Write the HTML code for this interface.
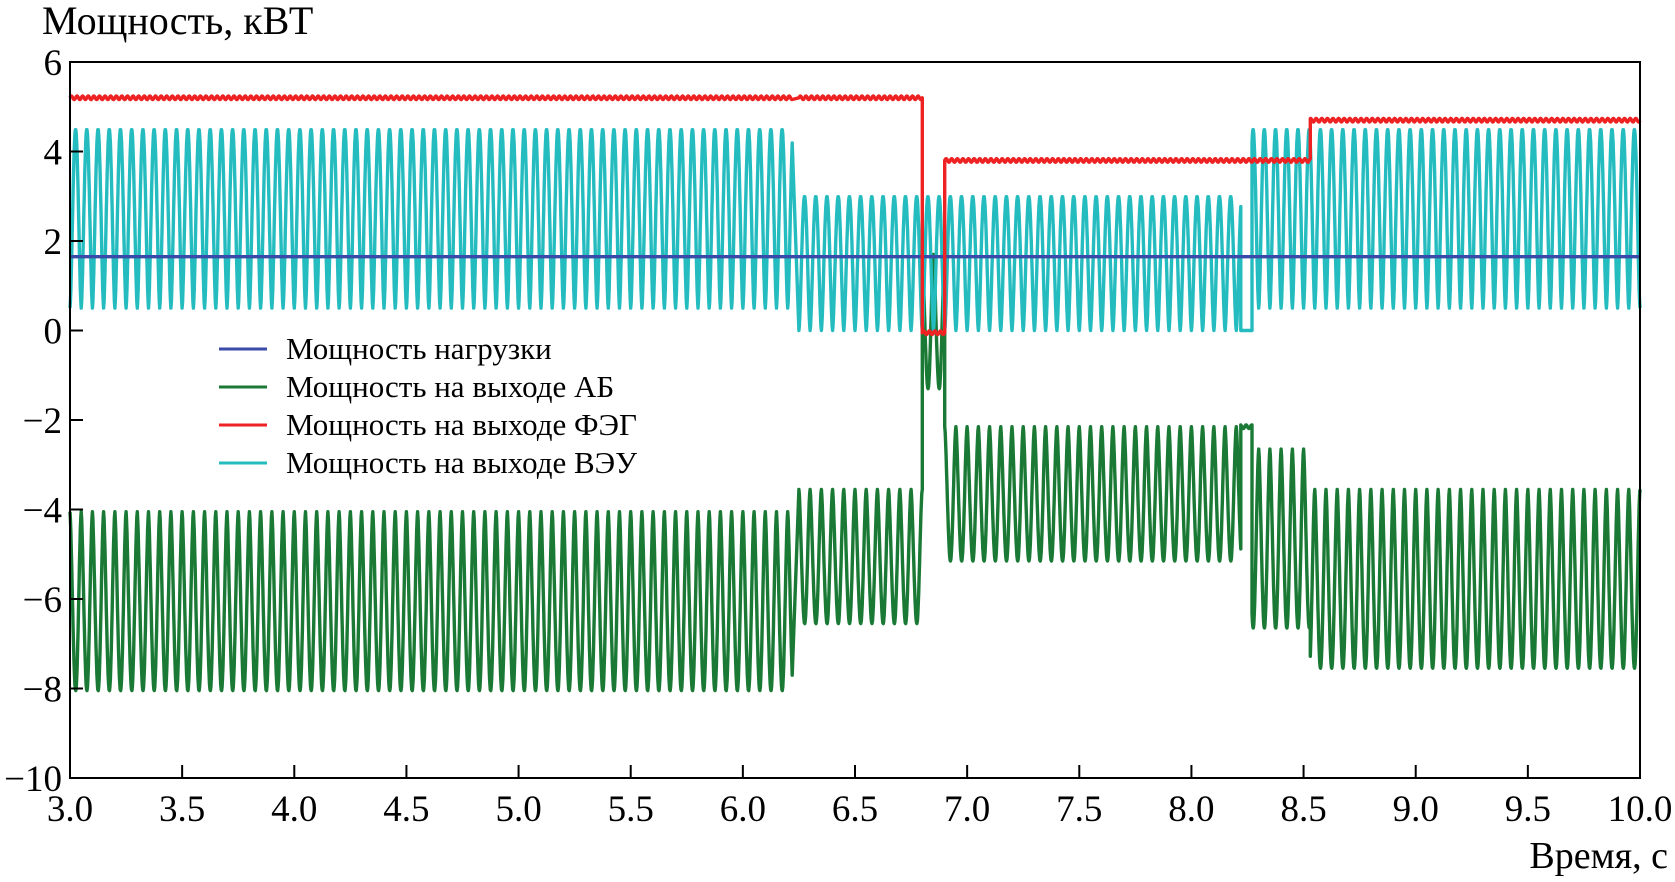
<!DOCTYPE html>
<html><head><meta charset="utf-8"><style>
body{margin:0;background:#fff;}
svg{display:block;font-family:"Liberation Serif",serif;}
</style></head><body>
<svg id="chart" width="1675" height="882" viewBox="0 0 1675 882">
<text x="42" y="34" font-size="40">Мощность, кВТ</text>
<text x="1668" y="868" font-size="38" text-anchor="end">Время, с</text>
<g id="series"></g>
<rect x="70" y="62" width="1570" height="716" fill="none" stroke="#000" stroke-width="2"/>
<g id="axes"></g>
<g id="legend"></g>
</svg>
<script>
// data
const xTicks=[3.0,3.5,4.0,4.5,5.0,5.5,6.0,6.5,7.0,7.5,8.0,8.5,9.0,9.5,10.0];
const yTicks=[6,4,2,0,-2,-4,-6,-8,-10];
const loadPower=1.65;
// segments: start time, end time, FEG level, VEU low, VEU high
const segStart=[3.0,6.25,6.8,6.9,8.22,8.27,8.53];
const segEnd=[6.22,6.8,6.9,8.22,8.27,8.53,10.0];
const fegLevel=[5.2,5.2,-0.05,3.8,3.8,3.8,4.7];
const veuLow=[0.5,0.0,0.0,0.0,0.0,0.5,0.5];
const veuHigh=[4.5,3.0,3.0,3.0,0.0,4.5,4.5];
const oscPeriod=0.05;
const seriesNames=["Мощность нагрузки","Мощность на выходе АБ","Мощность на выходе ФЭГ","Мощность на выходе ВЭУ"];
const seriesColors=["#3a4aa8","#1a7a35","#ee2222","#25bcc0"];

const NS="http://www.w3.org/2000/svg";
const X0=70,X1=1640,Y0=778,Y1=62;
const sx=t=>X0+(t-3)/7*(X1-X0);
const sy=v=>Y0-(v+10)/16*(Y0-Y1);
function mk(tag,attrs,parent){const e=document.createElementNS(NS,tag);for(const k in attrs)e.setAttribute(k,attrs[k]);parent.appendChild(e);return e;}
const axes=document.getElementById('axes');
xTicks.forEach(t=>{
  const l=mk('line',{x1:sx(t),x2:sx(t),y1:Y0,y2:Y0-13,stroke:'#000','stroke-width':2},axes);
  
  
  const tx=mk('text',{x:sx(t),y:821,'font-size':37,'text-anchor':'middle'},axes);
  tx.textContent=t.toFixed(1);
  
  
});
yTicks.forEach(v=>{
  const l=mk('line',{x1:X0,x2:X0+13,y1:sy(v),y2:sy(v),stroke:'#000','stroke-width':2},axes);
  
  
  const tx=mk('text',{x:62,y:sy(v)+13,'font-size':37,'text-anchor':'end'},axes);
  tx.textContent=v<0?'\u2212'+Math.abs(v):String(v);
  
  
});
// build series
const ptsLoad=[],ptsAB=[],ptsFEG=[],ptsVEU=[];
const dt=0.002;
for(let i=0;i<segStart.length;i++){
  for(let t=segStart[i];t<=segEnd[i]+1e-9;t+=dt){
    const ph=((t-3)/oscPeriod)%1;
    let w=0.5-0.5*Math.cos(2*Math.PI*ph);
    w=Math.pow(w,0.8);
    const veu=veuLow[i]+(veuHigh[i]-veuLow[i])*w;
    const feg=fegLevel[i]+0.04*Math.sin(2*Math.PI*ph*2);
    ptsVEU.push([t,veu]);ptsFEG.push([t,feg]);
    ptsAB.push([t,loadPower-feg-veu]);ptsLoad.push([t,loadPower]);
  }
}
const sg=document.getElementById('series');
function poly(pts,color,name){
  const p=mk('polyline',{points:pts.map(q=>sx(q[0]).toFixed(1)+','+sy(q[1]).toFixed(1)).join(' '),fill:'none',stroke:color,'stroke-width':3.4,'stroke-linejoin':'round'},sg);
  
  
}
poly(ptsAB,seriesColors[1],'ab-power-line');
poly(ptsVEU,seriesColors[3],'veu-power-line');
poly(ptsLoad,seriesColors[0],'load-power-line');
poly(ptsFEG,seriesColors[2],'feg-power-line');
// legend
const lg=document.getElementById('legend');
seriesNames.forEach((n,i)=>{
  const y=349+i*38;
  const l=mk('line',{x1:219,x2:267,y1:y,y2:y,stroke:seriesColors[i],'stroke-width':3},lg);
  
  
  const t=mk('text',{x:286,y:y+10,'font-size':31},lg);
  t.textContent=n;
  
  
});
</script>
</body></html>
